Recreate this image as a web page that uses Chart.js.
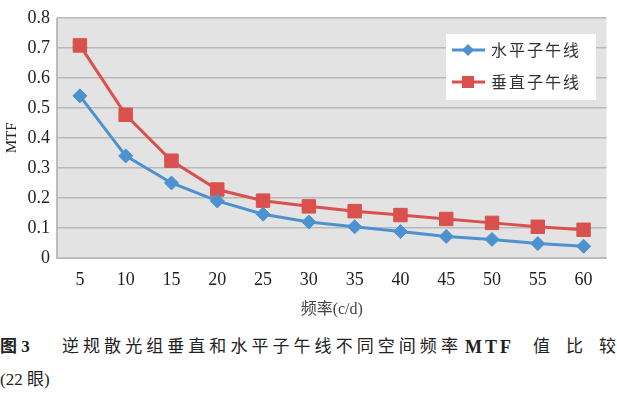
<!DOCTYPE html>
<html>
<head>
<meta charset="utf-8">
<script src="https://cdn.jsdelivr.net/npm/chart.js@4/dist/chart.umd.min.js"></script>
<style>
  html, body { margin: 0; padding: 0; background: #fff; }
  body { width: 617px; height: 397px; position: relative; overflow: hidden; }
  #wrap { position: absolute; left: 0; top: 0; width: 617px; height: 322px; }
  .cap { position: absolute; white-space: nowrap; color: #222; line-height: 24px;
         font-family: "Times New Roman", "Liberation Serif", "DejaVu Serif", "Noto Sans CJK SC", serif; font-size: 17px; }
  .cap b { font-weight: bold; }
</style>
</head>
<body>
<div id="wrap"><canvas id="c"></canvas></div>
<div class="cap" style="top:335px;left:0"><b>图 3</b></div>
<div class="cap" style="top:335px;left:62px;letter-spacing:4.05px">逆规散光组垂直和水平子午线不同空间频率</div>
<div class="cap" style="top:335px;left:465px;font-size:18px;letter-spacing:3px"><b>MTF</b></div>
<div class="cap" style="top:335px;left:533px;letter-spacing:16px">值比较</div>
<div class="cap" style="top:368px;left:0">(22 眼)</div>
<script>
'use strict';
// data
const freqs = ['5','10','15','20','25','30','35','40','45','50','55','60'];
const horizontal = [0.54, 0.34, 0.25, 0.19, 0.146, 0.12, 0.104, 0.088, 0.072, 0.062, 0.048, 0.039];
const vertical = [0.708, 0.477, 0.324, 0.228, 0.191, 0.172, 0.156, 0.143, 0.130, 0.117, 0.104, 0.094];
const seriesNames = ['水平子午线', '垂直子午线'];
const BLUE = '#4d92cf', RED = '#d9504d';

// plot background + frame
const plotBg = {
  id: 'plotBg',
  beforeDraw(chart){
    const {ctx, chartArea: a} = chart;
    ctx.save();
    ctx.fillStyle = '#e3e3e3';
    ctx.fillRect(a.left, a.top, a.right - a.left, a.bottom - a.top);
    ctx.restore();
  },
  beforeDatasetsDraw(chart){
    const {ctx, chartArea: a} = chart;
    ctx.save();
    ctx.strokeStyle = '#bcbcbc';
    ctx.lineWidth = 2;
    ctx.beginPath();
    ctx.moveTo(a.left, a.top); ctx.lineTo(a.left, a.bottom); ctx.lineTo(a.right, a.bottom);
    ctx.stroke();
    ctx.restore();
  }
};

// legend box inside the plot
const boxLegend = {
  id: 'boxLegend',
  afterDraw(chart){
    const ctx = chart.ctx;
    const x0 = 446, y0 = 34, w = 150, h = 66;
    ctx.save();
    ctx.fillStyle = '#ffffff';
    ctx.fillRect(x0, y0, w, h);
    chart.data.datasets.forEach((ds, i) => {
      const y = y0 + 16 + i * 32;
      ctx.strokeStyle = ds.borderColor; ctx.lineWidth = 3;
      ctx.beginPath(); ctx.moveTo(x0 + 6, y); ctx.lineTo(x0 + 39, y); ctx.stroke();
      ctx.fillStyle = ds.backgroundColor;
      const cx = x0 + 22;
      ctx.beginPath();
      if (ds.pointStyle === 'rectRot') {
        ctx.moveTo(cx - 6, y); ctx.lineTo(cx, y - 6); ctx.lineTo(cx + 6, y); ctx.lineTo(cx, y + 6);
      } else {
        ctx.rect(cx - 6, y - 6, 12, 12);
      }
      ctx.closePath(); ctx.fill();
      ctx.fillStyle = '#333';
      ctx.font = '16px "Noto Sans CJK SC"';
      ctx.textBaseline = 'middle';
      ctx.letterSpacing = '2px';
      ctx.fillText(ds.label, x0 + 45, y);
    });
    ctx.restore();
  }
};

const serif = '"Times New Roman", "Liberation Serif", "DejaVu Serif", "Noto Sans CJK SC", serif';

new Chart(document.getElementById('c'), {
  type: 'line',
  data: {
    labels: freqs,
    datasets: [
      { label: seriesNames[0], data: horizontal, borderColor: BLUE, backgroundColor: BLUE,
        borderWidth: 3, pointStyle: 'rectRot', pointRadius: 7, pointHoverRadius: 7,
        pointBorderWidth: 1, pointBorderColor: BLUE, tension: 0 },
      { label: seriesNames[1], data: vertical, borderColor: RED, backgroundColor: RED,
        borderWidth: 3, pointStyle: 'rect', pointRadius: 9.5, pointHoverRadius: 9.5,
        pointBorderWidth: 1, pointBorderColor: RED, tension: 0 }
    ]
  },
  options: {
    responsive: true, maintainAspectRatio: false, animation: false,
    layout: { padding: { top: 4, right: 2, left: 0, bottom: 0 } },
    plugins: { legend: { display: false }, tooltip: { enabled: false } },
    scales: {
      x: {
        offset: true,
        grid: { display: false, drawTicks: false },
        border: { display: false },
        ticks: { color: '#222', font: { family: serif, size: 18 }, padding: 11, maxRotation: 0, autoSkip: false },
        title: { display: true, text: '频率(c/d)', color: '#444', font: { family: serif, size: 16 }, padding: { top: 0, bottom: 3 } },
        afterFit(s){ s.height = 64; }
      },
      y: {
        min: 0, max: 0.8,
        grid: { color: '#b9b9b9', lineWidth: 1.5, drawTicks: false },
        border: { display: false },
        ticks: { stepSize: 0.1, color: '#222', font: { family: serif, size: 18 }, padding: 7,
                 callback: v => v === 0 ? '0' : v.toFixed(1) },
        title: { display: true, text: 'MTF', color: '#222', font: { family: serif, size: 15 }, padding: { top: 3, bottom: 0 } },
        afterFit(s){ s.width = 57; }
      }
    }
  },
  plugins: [plotBg, boxLegend]
});
</script>
</body>
</html>
